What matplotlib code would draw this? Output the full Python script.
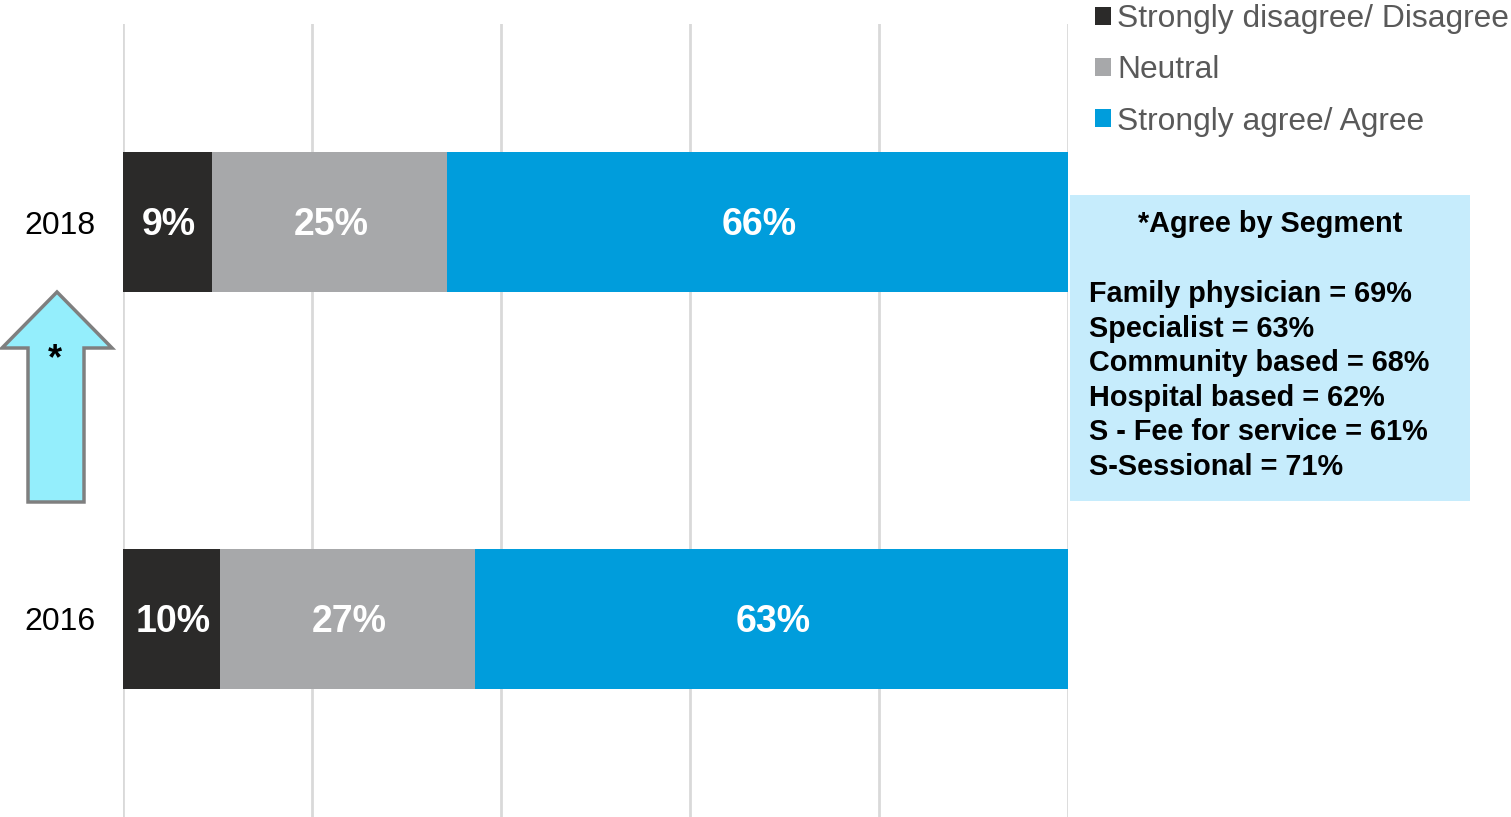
import matplotlib.pyplot as plt
from matplotlib.patches import Patch, Polygon, Rectangle

plt.rcParams['font.family'] = ['Liberation Sans', 'DejaVu Sans']

years = ['2016', '2018']
disagree = [10.3, 9.4]
neutral = [27.0, 24.9]
agree = [62.7, 65.7]

series_names = ['Strongly disagree/ Disagree', 'Neutral', 'Strongly agree/ Agree']
colors = ['#2b2a29', '#a7a8aa', '#009ddc']

segments = ['Family physician', 'Specialist', 'Community based',
            'Hospital based', 'S - Fee for service', 'S-Sessional']
segment_agree = [69, 63, 68, 62, 61, 71]

W, H = 1511, 817
fig = plt.figure(figsize=(W / 100, H / 100), dpi=100)
ax = fig.add_axes([123 / W, 0, 945 / W, 1 - 24 / H])

y = range(len(years))
left = [0] * len(years)
for vals, name, col in zip([disagree, neutral, agree], series_names, colors):
    bars = ax.barh(y, vals, left=left, height=0.353, color=col, label=name, zorder=3)
    for b, v in zip(bars, vals):
        ax.annotate(f'{round(v)}%',
                    (b.get_x() + b.get_width() / 2, b.get_y() + b.get_height() / 2),
                    xytext=(1, -2), textcoords='offset points',
                    ha='center', va='center', color='white',
                    fontsize=27, fontweight='bold', zorder=4)
    left = [l + v for l, v in zip(left, vals)]

ax.set_xlim(0, 100)
ax.set_ylim(-0.5, 1.5)
ax.set_xticks(range(0, 101, 20))
ax.set_xticklabels([])
ax.set_yticks(list(y))
ax.set_yticklabels(years, fontsize=23)
ax.tick_params(length=0, pad=20)
ax.grid(axis='x', color='#d9d9d9', lw=2, zorder=0)
ax.grid(axis='y', visible=False)
for s in ax.spines.values():
    s.set_visible(False)

# legend
handles = [Patch(facecolor=c, edgecolor='none') for c in colors]
leg = fig.legend(handles, series_names, loc='upper left',
                 bbox_to_anchor=(1095 / W, 1 - 4 / H), frameon=False,
                 fontsize=22.9, handlelength=0.5, handleheight=0.5,
                 handletextpad=0.2, labelspacing=0.67, borderpad=0,
                 borderaxespad=0)
for t in leg.get_texts():
    t.set_color('#595959')

# segment box
def fx(px):
    return px / W

def fy(py):
    return 1 - py / H

fig.patches.append(Rectangle((fx(1070), fy(501)), 400 / W, 306 / H,
                             transform=fig.transFigure, facecolor='#c6ecfc',
                             edgecolor='none', zorder=1))
fig.text(fx(1270), fy(224), '*Agree by Segment', ha='center', va='center',
         fontsize=20.8, fontweight='bold')
body = '\n'.join(f'{s} = {v}%' for s, v in zip(segments, segment_agree))
fig.text(fx(1089), fy(280), body, ha='left', va='top', fontsize=20.8,
         fontweight='bold', linespacing=1.3)

# up arrow
pts = [(57, 292), (112, 348), (84, 348), (84, 502), (28, 502), (28, 348), (2, 348)]
fig.patches.append(Polygon([(fx(a), fy(b)) for a, b in pts], closed=True,
                           transform=fig.transFigure, facecolor='#94eefc',
                           edgecolor='#7f7f7f', lw=2.5, zorder=2))
fig.text(fx(55), fy(360), '*', ha='center', va='center', fontsize=26,
         fontweight='bold')

fig.savefig('out.png', dpi=100)
